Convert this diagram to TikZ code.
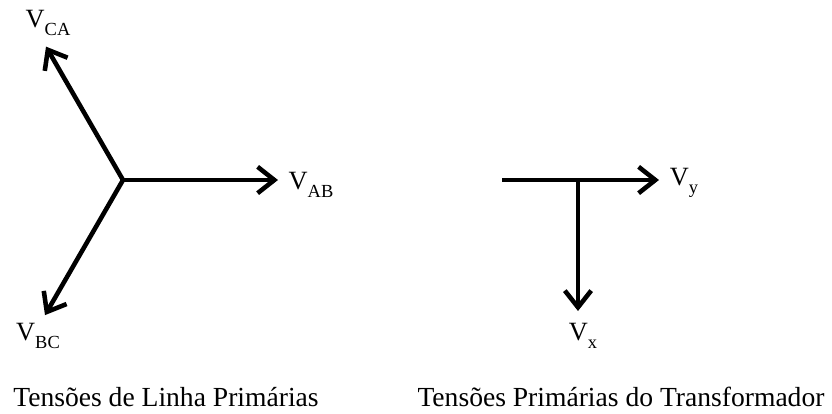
\documentclass[tikz,border=0pt]{standalone}
\usepackage{fontspec}
\setmainfont{Liberation Serif}
\usetikzlibrary{positioning,arrows.meta,calc}
\newcommand{\phlbl}[2]{#1\raisebox{-0.65ex}{\fontsize{10.5}{11}\selectfont #2}}

\begin{document}
\begin{tikzpicture}[x=0.02cm,y=-0.02cm,
    phasor/.style={line width=2.6pt,-{Straight Barb[length=9.5pt,width=15pt,line width=2.6pt]}},
    lbl/.style={inner sep=0pt,font=\fontsize{15}{16}\selectfont},
    caption/.style={inner sep=0pt,anchor=base,font=\fontsize{15.7}{18}\selectfont}]
  \useasboundingbox (0,0) rectangle (832,413);
  % line voltages
  \coordinate (O) at (123,180);
  \coordinate (tAB) at (278,180);
  \coordinate (tCA) at ($(O)+(120:156)$);
  \coordinate (tBC) at ($(O)+(240:154)$);
  \draw[phasor] (O) -- (tAB);
  \draw[phasor] (O) -- (tCA);
  \draw[phasor] (O) -- (tBC);
  \node[lbl] (lAB) at (311,185) {\phlbl{V}{AB}};
  \node[lbl] (lCA) at (48,23) {\phlbl{V}{CA}};
  \node[lbl] (lBC) at (38,336) {\phlbl{V}{BC}};
  % transformer voltages
  \coordinate (hL) at (502,180);
  \coordinate (tY) at (659,180);
  \coordinate (vT) at (578,180);
  \coordinate (tX) at (578,311);
  \draw[phasor] (hL) -- (tY);
  \draw[phasor] (vT) -- (tX);
  \node[lbl] (lY) at (684,183) {\phlbl{V}{y}};
  \node[lbl] (lX) at (583,336) {\phlbl{V}{x}};
  % captions
  \node[caption] (capL) at (166,406) {Tensões de Linha Primárias};
  \node[caption] (capR) at (621,406) {Tensões Primárias do Transformador};
\end{tikzpicture}
\end{document}
